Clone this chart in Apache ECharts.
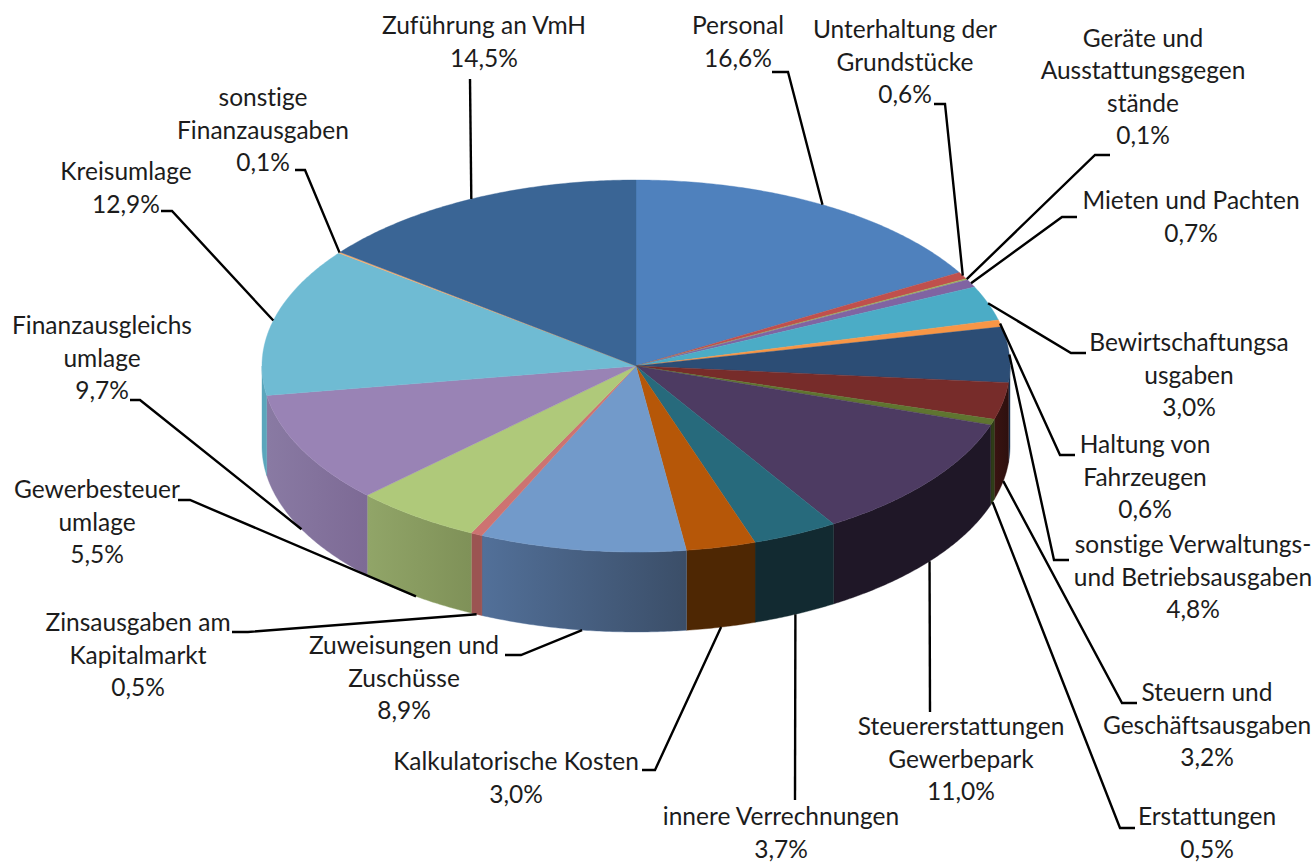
<!DOCTYPE html>
<html>
<head>
<meta charset="utf-8">
<title>Ausgaben</title>
<style>
    html, body { margin: 0; padding: 0; background: #fff; }
    #chart { width: 1315px; height: 864px; }
    #chart text { font-variant-ligatures: none !important; }
</style>
<script src="https://cdn.jsdelivr.net/npm/echarts@6/dist/echarts.min.js"></script>
</head>
<body>
<div id="chart"></div>
<script>
    // Daten, im Uhrzeigersinn ab 12 Uhr
    var categories = [
        'Personal',
        'Unterhaltung der\nGrundstücke',
        'Geräte und\nAusstattungsgegen\nstände',
        'Mieten und Pachten',
        'Bewirtschaftungsa\nusgaben',
        'Haltung von\nFahrzeugen',
        'sonstige Verwaltungs-\nund Betriebsausgaben',
        'Steuern und\nGeschäftsausgaben',
        'Erstattungen',
        'Steuererstattungen\nGewerbepark',
        'innere Verrechnungen',
        'Kalkulatorische Kosten',
        'Zuweisungen und\nZuschüsse',
        'Zinsausgaben am\nKapitalmarkt',
        'Gewerbesteuer\numlage',
        'Finanzausgleichs\numlage',
        'Kreisumlage',
        'sonstige\nFinanzausgaben',
        'Zuführung an VmH'
    ];
    var shares = [16.6, 0.6, 0.1, 0.7, 3.0, 0.6, 4.8, 3.2, 0.5, 11.0, 3.7, 3.0, 8.9, 0.5, 5.5, 9.7, 12.9, 0.1, 14.5];

    // Farben
    var topColors = ['#4f81bd', '#c0504d', '#9bbb59', '#8064a2', '#4bacc6', '#f79646', '#2c4d75', '#772c2a', '#5f7530',
        '#4d3b62', '#276a7c', '#b65708', '#729aca', '#cd7371', '#afc97a', '#9983b5', '#6fbbd3', '#f9ab6b', '#3a6595'];
    var wallLeft = ['#4f81bd', '#c0504d', '#9bbb59', '#8064a2', '#4bacc6', '#f79646', '#1c3350', '#3a1412', '#2f3d18',
        '#1f1727', '#122a31', '#4e2703', '#527099', '#9b5452', '#91a568', '#897aa3', '#5aa6bc', '#f9ab6b', '#3a6595'];
    var wallRight = ['#4f81bd', '#c0504d', '#9bbb59', '#8064a2', '#4bacc6', '#f79646', '#1c3350', '#2e100e', '#2f3d18',
        '#1f1727', '#122a31', '#4e2703', '#3b4e68', '#9b5452', '#7f9158', '#7d6a95', '#5aa6bc', '#f9ab6b', '#3a6595'];

    // Lage der Beschriftungen: Textmitte und Knickpunkte der Führungslinie
    var labelCenters = [[738, 41], [905, 61], [1143, 86], [1191, 216], [1189, 374], [1145, 476], [1193, 576], [1207, 724],
        [1207, 832], [961, 758], [781, 832], [516, 777], [404, 677], [138, 654], [97, 521], [102, 357], [126, 187], [263, 129], [484, 41]];
    var leaderBends = [
        [[788, 72], [772, 72]],
        [[945, 104], [934, 104]],
        [[1095, 155], [1110, 155]],
        [[1062, 217], [1077, 217]],
        [[1071, 353], [1086, 353]],
        [[1060, 455], [1075, 455]],
        [[1054, 560], [1069, 560]],
        [[1122, 703], [1137, 703]],
        [[1120, 828], [1135, 828]],
        [[930, 712]],
        [[795, 800]],
        [[655, 770], [642, 770]],
        [[521, 655], [505, 655]],
        [[248, 632], [232, 632]],
        [[190, 500], [178, 500]],
        [[140, 400], [130, 400]],
        [[172, 211], [161, 211]],
        [[305, 170], [295, 170]],
        [[470, 79]]
    ];

    // Ellipse der Torte
    var cx = 636, cy = 366, rx = 374, ry = 186, depth = 80;
    var total = shares.reduce(function (a, b) { return a + b; }, 0);

    function startOf(index) {
        var sum = 0;
        for (var i = 0; i < index; i++) sum += shares[i];
        return sum / total * 360;
    }

    function rimPoint(deg, drop) {
        var t = deg * Math.PI / 180;
        return [cx + rx * Math.sin(t), cy - ry * Math.cos(t) + (drop || 0)];
    }

    function arcPoints(from, to, drop) {
        var pts = [];
        var n = Math.max(2, Math.ceil((to - from) * 2));
        for (var i = 0; i <= n; i++) pts.push(rimPoint(from + (to - from) * i / n, drop));
        return pts;
    }

    function renderWall(params, api) {
        var i = params.dataIndex;
        var start = startOf(i);
        var from = Math.max(start, 90);
        var to = Math.min(start + api.value(0) / total * 360, 270);
        if (to <= from) return null;
        var pts = arcPoints(from, to, 0).concat(arcPoints(from, to, depth).reverse());
        // Farbverlauf läuft auf dem Bild von links nach rechts
        var fill = new echarts.graphic.LinearGradient(0, 0, 1, 0, [
            { offset: 0, color: wallLeft[i] },
            { offset: 1, color: wallRight[i] }
        ]);
        return { type: 'polygon', shape: { points: pts }, style: { fill: fill, stroke: wallLeft[i], lineWidth: 0.4 } };
    }

    function renderTop(params, api) {
        var i = params.dataIndex;
        var from = startOf(i);
        var to = from + api.value(0) / total * 360;
        return {
            type: 'polygon',
            shape: { points: [[cx, cy]].concat(arcPoints(from, to, 0)) },
            style: { fill: topColors[i], stroke: topColors[i], lineWidth: 0.4 }
        };
    }

    function renderLabel(params, api) {
        var i = params.dataIndex;
        var mid = startOf(i) + api.value(0) / total * 180;
        var front = mid > 90 && mid < 270;
        var start = rimPoint(mid, front ? depth : 0);
        return {
            type: 'group',
            children: [{
                type: 'polyline',
                shape: { points: [start].concat(leaderBends[i]) },
                style: { fill: null, stroke: '#000', lineWidth: 2.4 }
            }, {
                type: 'text',
                x: labelCenters[i][0],
                y: labelCenters[i][1],
                style: {
                    text: categories[i] + '\n' + api.value(0).toFixed(1).replace('.', ',') + '%',
                    font: '24.5px Lato',
                    lineHeight: 32.5,
                    fill: '#1c1c1c',
                    align: 'center',
                    verticalAlign: 'middle'
                }
            }]
        };
    }

    var chart = echarts.init(document.getElementById('chart'), null, { renderer: 'svg' });
    chart.setOption({
        animation: false,
        backgroundColor: '#ffffff',
        tooltip: { show: false },
        series: [
            { type: 'custom', coordinateSystem: 'none', silent: true, z: 1, data: shares, renderItem: renderWall },
            { type: 'custom', coordinateSystem: 'none', silent: true, z: 2, data: shares, renderItem: renderTop },
            { type: 'custom', coordinateSystem: 'none', silent: true, z: 3, data: shares, renderItem: renderLabel }
        ]
    });
</script>
</body>
</html>
